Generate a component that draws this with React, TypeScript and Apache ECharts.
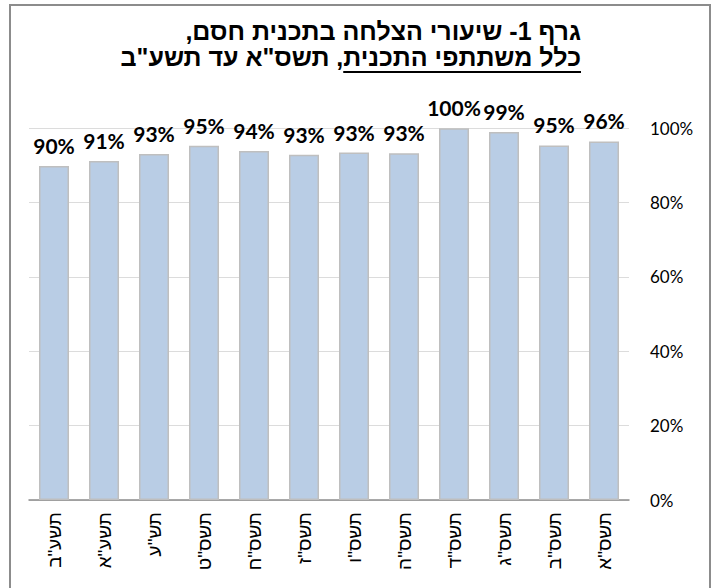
import React, { useEffect, useRef } from "react";
import * as echarts from "echarts";

// Chronological order (rendered right-to-left via inverse axis)
const categories = ['תשס"א', 'תשס"ב', 'תשס"ג', 'תשס"ד', 'תשס"ה', 'תשס"ו', 'תשס"ז', 'תשס"ח', 'תשס"ט', 'תש"ע', 'תשע"א', 'תשע"ב'];
const successRates = [96.4, 95.3, 98.9, 99.9, 93.2, 93.4, 92.8, 93.8, 95.2, 93.0, 91.1, 89.8];
const yTicks = [0, 20, 40, 60, 80, 100];
const titleLine1 = "גרף 1- שיעורי הצלחה בתכנית חסם,";
const titleLine2Underlined = "כלל משתתפי התכנית";
const titleLine2Rest = ', תשס"א עד תשע"ב';

const RLE = "\u202B";
const PDF = "\u202C";
const TITLE_FONT = "Liberation Sans, Arial, sans-serif";
const TITLE_SIZE = 25;

function measure(text: string): number {
  const c = document.createElement("canvas").getContext("2d");
  if (!c) return 0;
  c.font = `bold ${TITLE_SIZE}px "Liberation Sans", Arial, sans-serif`;
  return c.measureText(text).width;
}

export default function App() {
  const ref = useRef<HTMLDivElement>(null);
  useEffect(() => {
    if (!ref.current) return;
    const chart = echarts.init(ref.current, null, { renderer: "svg" });
    const titleRight = 581;
    const ulWidth = measure(titleLine2Underlined);
    const titleText =
      RLE + titleLine1 + PDF + "\n" + RLE + titleLine2Underlined + titleLine2Rest + PDF;
    chart.setOption({
      animation: false,
      backgroundColor: "#ffffff",
      grid: { left: 29, right: 87, top: 128, bottom: 88, containLabel: false },
      xAxis: {
        type: "category",
        data: categories,
        inverse: true,
        axisLine: { show: true, lineStyle: { color: "#8c8c8c", width: 1.5 } },
        axisTick: { show: false },
        axisLabel: {
          rotate: 90,
          margin: 12,
          fontSize: 19,
          color: "#000",
          fontFamily: "Liberation Sans, Arial, sans-serif",
        },
      },
      yAxis: {
        type: "value",
        position: "right",
        min: yTicks[0],
        max: yTicks[yTicks.length - 1],
        interval: 20,
        axisLine: { show: false },
        axisTick: { show: false },
        splitLine: { lineStyle: { color: "#dcdcdc", width: 1 } },
        axisLabel: {
          margin: 21,
          fontSize: 17,
          color: "#000",
          fontFamily: "Lato, sans-serif",
          formatter: (v: number) => v + "%",
        },
      },
      series: [
        {
          type: "bar",
          data: successRates,
          barWidth: 30,
          itemStyle: { color: "#b9cde5", borderColor: "#bfbfbf", borderWidth: 1.5 },
          label: {
            show: true,
            position: "top",
            distance: 10,
            fontSize: 21,
            fontWeight: "bold",
            color: "#000",
            fontFamily: "Lato, sans-serif",
            formatter: (p: any) => Math.round(p.value) + "%",
          },
        },
      ],
      graphic: [
        {
          type: "rect",
          shape: { x: 10, y: 5, width: 700, height: 600 },
          style: { fill: "none", stroke: "#8c8c8c", lineWidth: 2 },
          silent: true,
          z: 100,
        },
        {
          type: "text",
          x: titleRight,
          y: 44,
          style: {
            text: titleText,
            fontSize: TITLE_SIZE,
            lineHeight: 26,
            fontWeight: "bold",
            fontFamily: TITLE_FONT,
            fill: "#000",
            align: "right",
            verticalAlign: "middle",
          },
        },
        {
          type: "line",
          shape: { x1: titleRight - ulWidth, y1: 72, x2: titleRight, y2: 72 },
          style: { stroke: "#000", lineWidth: 2 },
        },
      ],
    });
    return () => chart.dispose();
  }, []);
  return (
    <div
      ref={ref}
      style={{ position: "absolute", left: 0, top: 0, width: 716, height: 588, background: "#fff" }}
    />
  );
}
